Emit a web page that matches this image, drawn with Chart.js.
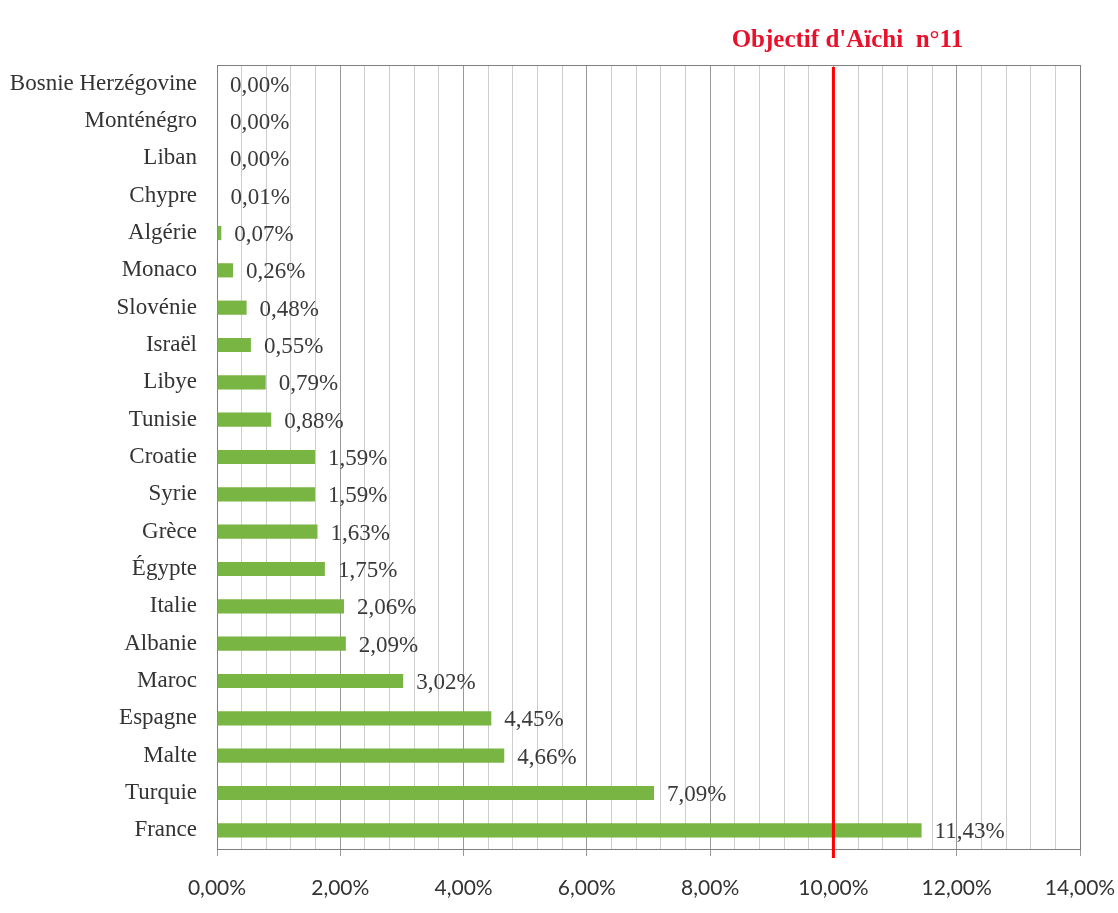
<!DOCTYPE html>
<html><head><meta charset="utf-8">
<script src="https://cdn.jsdelivr.net/npm/chart.js@4/dist/chart.umd.min.js"></script>
<style>html,body{margin:0;padding:0;background:#fff}#wrap{width:1118px;height:913px}</style>
</head><body><div id="wrap"><canvas id="c" width="1118" height="913"></canvas></div>
<script>
const categories = ["Bosnie Herzégovine","Monténégro","Liban","Chypre","Algérie","Monaco","Slovénie","Israël","Libye","Tunisie","Croatie","Syrie","Grèce","Égypte","Italie","Albanie","Maroc","Espagne","Malte","Turquie","France"];
const values = [0.00,0.00,0.00,0.01,0.07,0.26,0.48,0.55,0.79,0.88,1.59,1.59,1.63,1.75,2.06,2.09,3.02,4.45,4.66,7.09,11.43];
const xMin = 0, xMax = 14, gridStep = 0.4, labelStep = 2;
const targetValue = 10;
const targetLabel = "Objectif d'Aïchi  n°11";

const fmt = v => v.toFixed(2).replace('.', ',') + '%';
const isMajor = v => Math.abs(v / labelStep - Math.round(v / labelStep)) < 1e-6;

const extras = {
  id: 'extras',
  beforeDatasetsDraw(chart) {
    const {ctx, chartArea: a} = chart;
    ctx.save();
    ctx.strokeStyle = '#7f7f7f';
    ctx.lineWidth = 1;
    ctx.strokeRect(a.left + 0.5, a.top + 0.5, a.right - a.left, a.bottom - a.top);
    ctx.restore();
  },
  afterDatasetsDraw(chart) {
    const {ctx, chartArea: a} = chart;
    const meta = chart.getDatasetMeta(0);
    ctx.save();
    ctx.font = '23px "Liberation Serif", serif';
    ctx.fillStyle = '#3a3a3a';
    ctx.textBaseline = 'middle';
    ctx.textAlign = 'left';
    meta.data.forEach((bar, i) => {
      ctx.fillText(fmt(values[i]), bar.x + 13, bar.y + 2);
    });
    const xs = chart.scales.x.getPixelForValue(targetValue);
    ctx.strokeStyle = '#ff0000';
    ctx.lineWidth = 3;
    ctx.beginPath();
    ctx.moveTo(xs, a.top + 2);
    ctx.lineTo(xs, a.bottom + 9);
    ctx.stroke();
    ctx.font = 'bold 25px "Liberation Serif", serif';
    ctx.fillStyle = '#e8102a';
    ctx.textAlign = 'center';
    ctx.fillText(targetLabel, xs + 14, 41);
    ctx.restore();
  }
};

new Chart(document.getElementById('c'), {
  type: 'bar',
  data: {
    labels: categories,
    datasets: [{
      data: values,
      backgroundColor: '#78b542',
      borderWidth: 0,
      barPercentage: 0.38,
      categoryPercentage: 1
    }]
  },
  options: {
    indexAxis: 'y',
    responsive: false,
    animation: false,
    layout: {padding: {left: 0, top: 65, right: 38, bottom: 0}},
    plugins: {legend: {display: false}, tooltip: {enabled: false}},
    scales: {
      x: {
        min: xMin, max: xMax,
        afterFit(s) { s.height = 64; s.paddingLeft = 0; s.paddingRight = 0; },
        border: {display: true, color: '#7f7f7f'},
        grid: {
          color: c => (c.tick && isMajor(c.tick.value)) ? '#999999' : '#cdcdcd',
          tickColor: c => (c.tick && isMajor(c.tick.value)) ? '#999999' : 'rgba(0,0,0,0)',
          tickLength: 7
        },
        ticks: {
          stepSize: gridStep,
          autoSkip: false,
          maxRotation: 0,
          padding: 20,
          color: '#333',
          font: {family: 'Lato, sans-serif', size: 21},
          callback: v => isMajor(v) ? fmt(Math.round(v)) : ''
        }
      },
      y: {
        afterFit(s) { s.width = 217; s.paddingTop = 0; s.paddingBottom = 0; },
        border: {display: true, color: '#7f7f7f'},
        grid: {display: false, drawTicks: false},
        ticks: {
          padding: 20,
          color: '#333',
          font: {family: '"Liberation Serif", serif', size: 23}
        }
      }
    }
  },
  plugins: [extras]
});
</script></body></html>
